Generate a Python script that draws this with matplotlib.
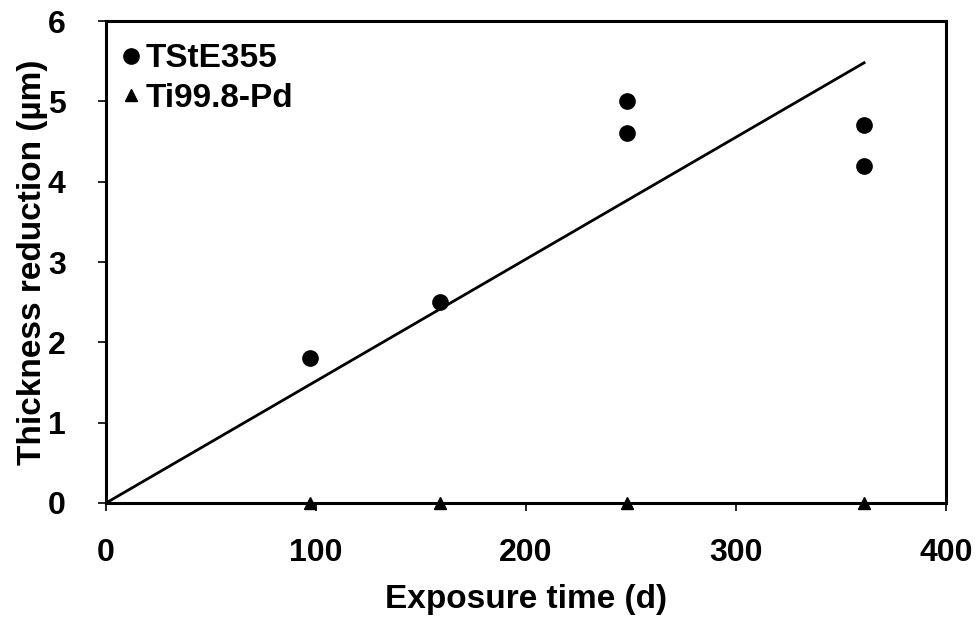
import matplotlib
matplotlib.use("Agg")
import matplotlib.pyplot as plt
import numpy as np

plt.rcParams['font.family'] = ['Liberation Sans', 'DejaVu Sans']
plt.rcParams['font.weight'] = 'bold'

steel_x = [97, 159, 248, 248, 361, 361]
steel_y = [1.8, 2.5, 5.0, 4.6, 4.7, 4.2]
ti_x = [97, 159, 248, 361]
ti_y = [0.0, 0.0, 0.0, 0.0]
fit_x = [0, 361]
fit_slope = 0.01518

fig = plt.figure(figsize=(9.76, 6.18), dpi=100)
ax = fig.add_axes([106/976, 1 - 503/618, (946-106)/976, (503-21)/618])

ax.plot(fit_x, [fit_slope * v for v in fit_x], color='black', lw=2)
ax.plot(steel_x, steel_y, 'o', color='black', ms=11, label='TStE355', clip_on=False)
ax.plot(ti_x, ti_y, '^', color='black', ms=8.5, label='Ti99.8-Pd', clip_on=False, zorder=5)

ax.set_xlim(0, 400)
ax.set_ylim(0, 6)
ax.set_xticks([0, 100, 200, 300, 400])
ax.set_yticks([0, 1, 2, 3, 4, 5, 6])
ax.tick_params(direction='out', length=6, width=1.2, labelsize=23)
ax.tick_params(axis='x', pad=19)
ax.tick_params(axis='y', pad=23)
for lab in ax.get_xticklabels() + ax.get_yticklabels():
    lab.set_fontweight('bold')
for s in ax.spines.values():
    s.set_linewidth(2.2)
    s.set_color('black')

ax.set_xlabel('Exposure time (d)', fontsize=24, fontweight='bold', labelpad=12)
ax.set_ylabel('Thickness reduction (µm)', fontsize=24, fontweight='bold', labelpad=0)

leg = ax.legend(loc='upper left', frameon=False, fontsize=24, handletextpad=0.1,
                handlelength=0.7, borderaxespad=0.0, labelspacing=0.26,
                bbox_to_anchor=(0.0, 0.981))
for t in leg.get_texts():
    t.set_fontweight('bold')

fig.savefig('out.png', dpi=100)
